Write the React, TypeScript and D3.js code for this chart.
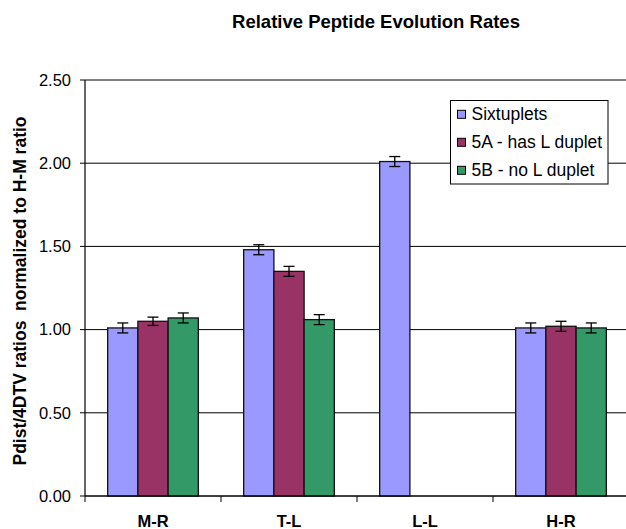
import React from "react";
import * as d3 from "d3";

const categories = ["M-R", "T-L", "L-L", "H-R"];
const seriesNames = ["Sixtuplets", "5A - has L duplet", "5B - no L duplet"];
const seriesColors = ["#9999FF", "#993366", "#339966"];
const sixtuplets = [1.01, 1.48, 2.01, 1.01];
const fiveA: (number | null)[] = [1.05, 1.35, null, 1.02];
const fiveB: (number | null)[] = [1.07, 1.06, null, 1.01];
const errSixtuplets = [0.03, 0.03, 0.03, 0.03];
const errFiveA = [0.025, 0.03, 0, 0.03];
const errFiveB = [0.03, 0.03, 0, 0.03];
const yTicks = [0, 0.5, 1.0, 1.5, 2.0, 2.5];

const W = 626;
const H = 529;
const left = 85;
const right = 629;
const top = 80;
const bottom = 496;

export default function App() {
  const values = [sixtuplets, fiveA, fiveB];
  const errs = [errSixtuplets, errFiveA, errFiveB];
  const y = d3.scaleLinear().domain([0, 2.5]).range([bottom, top]);
  const x0 = d3.scaleBand<string>().domain(categories).range([left, right]).padding(0);
  const step = x0.step();
  const groupW = (step * 3) / 4.5;
  const x1 = d3
    .scaleBand<string>()
    .domain(seriesNames)
    .range([(step - groupW) / 2, (step + groupW) / 2])
    .padding(0);
  const font = "'Liberation Sans', Arial, sans-serif";
  const boundaries = d3.range(categories.length + 1).map((i) => left + i * step);

  return (
    <div style={{ position: "absolute", left: 0, top: 0 }}>
      <svg width={W} height={H} style={{ display: "block", background: "#fff" }} fontFamily={font}>
        <rect x={0} y={0} width={W} height={H} fill="#fff" />
        <text x={376} y={28} textAnchor="middle" fontWeight="bold" fontSize={18.5}>
          Relative Peptide Evolution Rates
        </text>
        {/* gridlines */}
        {yTicks.map((t) => (
          <line key={"g" + t} x1={left} x2={right} y1={y(t)} y2={y(t)} stroke="#000" strokeWidth={1} />
        ))}
        {/* y ticks and labels */}
        {yTicks.map((t) => (
          <g key={"t" + t}>
            <line x1={left - 5} x2={left} y1={y(t)} y2={y(t)} stroke="#000" />
            <text x={71} y={y(t)} dy="0.35em" textAnchor="end" fontSize={16.5}>
              {t.toFixed(2)}
            </text>
          </g>
        ))}
        {/* bars */}
        {categories.map((c, ci) => (
          <g key={c} transform={`translate(${x0(c)},0)`}>
            {seriesNames.map((s, si) => {
              const v = values[si][ci];
              if (v === null || v === undefined) return null;
              const bx = x1(s)!;
              const bw = x1.bandwidth();
              const e = errs[si][ci];
              const cx = bx + bw / 2;
              return (
                <g key={s}>
                  <rect x={bx} y={y(v)} width={bw} height={bottom - y(v)} fill={seriesColors[si]} stroke="#111" strokeWidth={1.3} />
                  <line x1={cx} x2={cx} y1={y(v + e)} y2={y(v - e)} stroke="#000" strokeWidth={1.3} />
                  <line x1={cx - 5.5} x2={cx + 5.5} y1={y(v + e)} y2={y(v + e)} stroke="#000" strokeWidth={1.3} />
                  <line x1={cx - 5.5} x2={cx + 5.5} y1={y(v - e)} y2={y(v - e)} stroke="#000" strokeWidth={1.3} />
                </g>
              );
            })}
          </g>
        ))}
        {/* axes */}
        <line x1={left} x2={left} y1={top} y2={bottom} stroke="#000" strokeWidth={1.2} />
        <line x1={left} x2={right} y1={bottom} y2={bottom} stroke="#000" strokeWidth={1.2} />
        {boundaries.map((b, i) => (
          <line key={"xb" + i} x1={b} x2={b} y1={bottom} y2={bottom + 6} stroke="#000" />
        ))}
        {categories.map((c) => (
          <text key={"xl" + c} x={x0(c)! + step / 2} y={527} textAnchor="middle" fontWeight="bold" fontSize={16.5}>
            {c}
          </text>
        ))}
        {/* y axis title */}
        <text
          transform={`translate(25.5,291) rotate(-90)`}
          textAnchor="middle"
          fontWeight="bold"
          fontSize={17.5}
          style={{ whiteSpace: "pre" }}
        >
          {"Pdist/4DTV ratios  normalized to H-M ratio"}
        </text>
        {/* legend */}
        <rect x={450.5} y={100.5} width={157.5} height={83.5} fill="#fff" stroke="#000" strokeWidth={1} />
        {seriesNames.map((s, i) => {
          const cy = 114.3 + i * 28;
          return (
            <g key={"lg" + s}>
              <rect x={457.5} y={cy - 4} width={8} height={8} fill={seriesColors[i]} stroke="#000" strokeWidth={1} />
              <text x={471.5} y={cy} dy="0.35em" fontSize={17.5}>
                {s}
              </text>
            </g>
          );
        })}
      </svg>
    </div>
  );
}
